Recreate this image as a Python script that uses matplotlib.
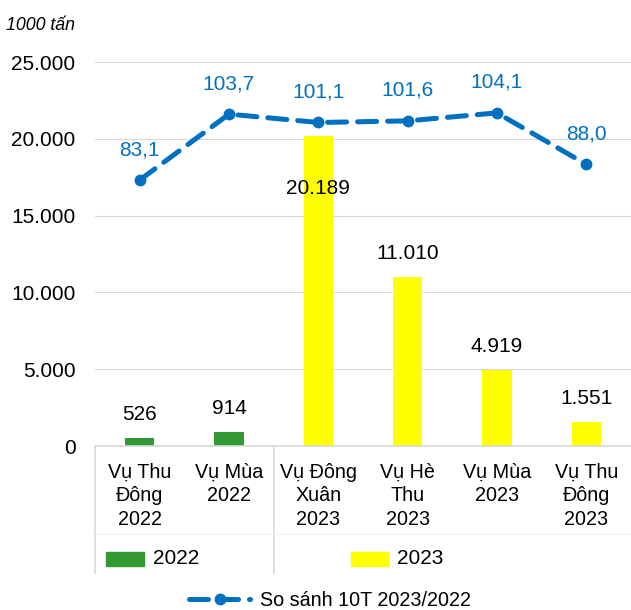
import matplotlib.pyplot as plt
from matplotlib.lines import Line2D
from matplotlib.patches import Rectangle

plt.rcParams["font.family"] = ["Liberation Sans", "DejaVu Sans"]

# data
seasons = ["Vụ Thu\nĐông\n2022", "Vụ Mùa\n2022", "Vụ Đông\nXuân\n2023",
           "Vụ Hè\nThu\n2023", "Vụ Mùa\n2023", "Vụ Thu\nĐông\n2023"]
output = [526, 914, 20189, 11010, 4919, 1551]
years = ["2022", "2022", "2023", "2023", "2023", "2023"]
ratio = [83.1, 103.7, 101.1, 101.6, 104.1, 88.0]

green = "#339933"
yellow = "#FFFF00"
blue = "#0070C0"
grid_c = "#D9D9D9"
W, H = 631, 610


def px(x, y):
    return x / W, 1 - y / H


def fmt_int(v):
    return f"{v:,.0f}".replace(",", ".")


def fmt_dec(v):
    return f"{v:.1f}".replace(".", ",")


fig = plt.figure(figsize=(W / 100, H / 100), dpi=100)
ax = fig.add_axes([95 / W, 164 / H, 536 / W, 384 / H])

x = list(range(len(seasons)))
colors = [green if y == "2022" else yellow for y in years]
bars = ax.bar(x, output, width=0.33, color=colors, zorder=2)

ax.set_xlim(-0.5, len(seasons) - 0.5)
ax.set_ylim(0, 25000)
ax.set_yticks(range(0, 25001, 5000))
ax.set_yticklabels([fmt_int(v) for v in range(0, 25001, 5000)], fontsize=15)
ax.set_xticks(x)
ax.set_xticklabels(seasons, fontsize=14.2, linespacing=1.3)
ax.tick_params(axis="both", length=0, colors="black")
ax.tick_params(axis="y", pad=14)
ax.tick_params(axis="x", pad=12)
ax.grid(axis="y", color=grid_c, linewidth=0.8, zorder=0)
for s in ["left", "right", "top"]:
    ax.spines[s].set_visible(False)
ax.spines["bottom"].set_color(grid_c)
ax.spines["bottom"].set_linewidth(1.2)

# bar value labels
for xi, v in zip(x, output):
    off = -38 if v > 20000 else 17
    ax.annotate(fmt_int(v), (xi, v), xytext=(0, off), textcoords="offset points",
                ha="center", va="center", fontsize=15, zorder=5)

# comparison line on hidden secondary axis
ax2 = ax.twinx()
ax2.set_ylim(0, 120)
ax2.axis("off")
line, = ax2.plot(x, ratio, color=blue, linewidth=3.6, linestyle=(0, (3.8, 2.2)),
                 marker="o", markersize=7.5, dash_capstyle="round",
                 label="So sánh 10T 2023/2022")
for xi, v in zip(x, ratio):
    ax2.annotate(fmt_dec(v), (xi, v), xytext=(0, 22), textcoords="offset points",
                 ha="center", va="center", fontsize=15, color=blue)

# table-like lines under the axis
for xl in (95, 274):
    fig.add_artist(Line2D([px(xl, 0)[0]] * 2, [px(0, 446)[1], px(0, 573)[1]],
                          color=grid_c, linewidth=1.2))
fig.add_artist(Line2D([px(95, 0)[0], 1], [px(0, 534)[1]] * 2,
                      color="#F2F2F2", linewidth=1))

# series keys in the table row
for (x0, x1), c, lab in [((106, 144), green, "2022"), ((351, 388), yellow, "2023")]:
    fig.add_artist(Rectangle(px(x0, 566), (x1 - x0) / W, 14 / H, color=c,
                             transform=fig.transFigure))
    fig.text(*px(x1 + 9, 559), lab, fontsize=15, ha="left", va="center")

fig.text(*px(6, 25), "1000 tấn", fontsize=12.8, style="italic", ha="left", va="center")

fig.legend(handles=[line], loc="center", bbox_to_anchor=px(330, 600),
           frameon=False, fontsize=14.2, handlelength=3.1, handletextpad=0.5)

fig.savefig("out.png", dpi=100)
